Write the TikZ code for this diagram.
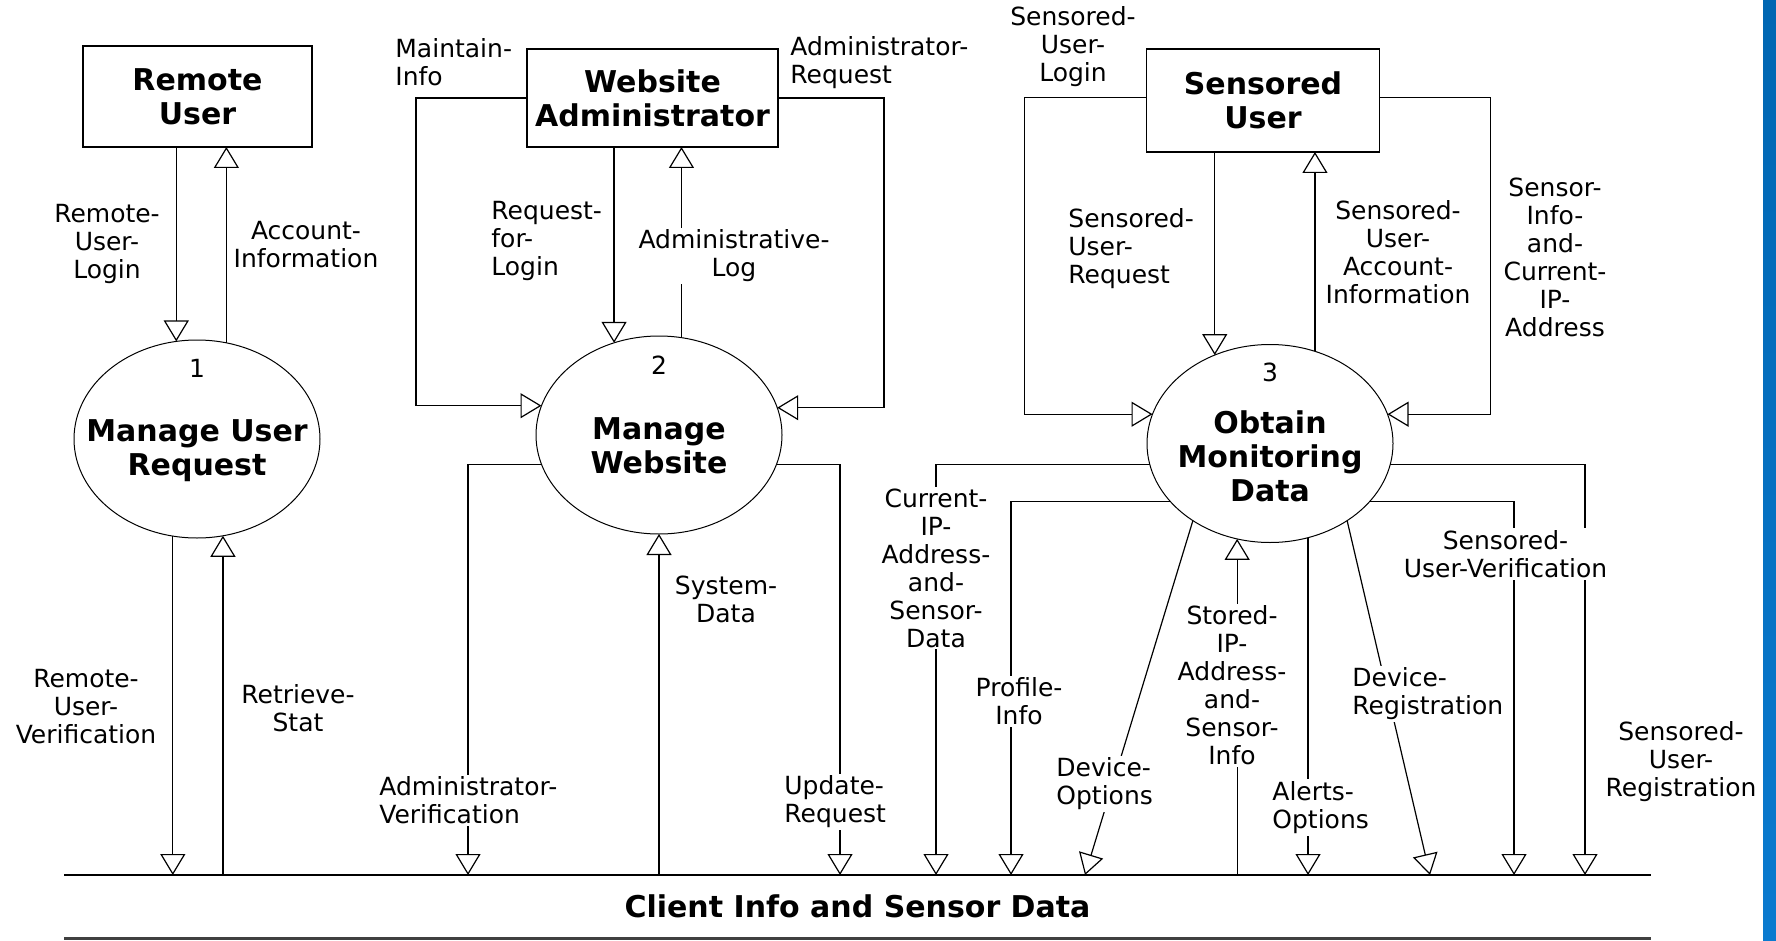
\documentclass[tikz,border=0pt]{standalone}
\usepackage{fontspec}
\setmainfont{DejaVu Sans}
\usetikzlibrary{arrows.meta,shapes.geometric}
\definecolor{bandtop}{HTML}{0066B2}
\definecolor{bandbot}{HTML}{0A7ACF}
\newcommand{\labfont}{\fontsize{12.5pt}{14pt}\selectfont}
\newcommand{\ttlfont}{\bfseries\fontsize{15pt}{17pt}\selectfont}

\begin{document}
\begin{tikzpicture}[x=0.5pt,y=-0.5pt,
  ext/.style={draw,rectangle,line width=0.7pt,inner sep=0pt,outer sep=0pt,align=center,font=\ttlfont},
  proc/.style={draw,ellipse,line width=0.5pt,inner sep=0pt,outer sep=0pt,minimum width=123pt,minimum height=99pt},
  ttl/.style={align=center,inner sep=0pt,font=\ttlfont},
  num/.style={inner sep=0pt,font=\labfont},
  lab/.style={align=center,fill=white,inner sep=1pt,font=\labfont},
  labl/.style={lab,align=left,anchor=west},
  flow/.style={line width=0.6pt,-{Triangle[open,width=12.5pt,length=10.5pt]}},
  dstore/.style={inner sep=0pt,outer sep=0pt,minimum width=793.5pt,minimum height=31.75pt,font=\ttlfont}]
	\path[fill=white,use as bounding box] (0,0) rectangle (1776,941);
	\shade[top color=bandtop,bottom color=bandbot] (1763,0) rectangle (1776,941);

	\node[ext,minimum width=114.5pt,minimum height=50.5pt] (RU) at (197.5,96.5) {Remote\\User};
	\node[ext,minimum width=125.5pt,minimum height=49pt] (WA) at (652.5,98) {Website\\Administrator};
	\node[ext,minimum width=116.25pt,minimum height=51.5pt] (SU) at (1263,100.5) {Sensored\\User};

	\node[proc] (P1) at (197,439) {};
	\node[proc] (P2) at (659,435) {};
	\node[proc] (P3) at (1270,443.5) {};
	\node[num] (n1) at (197,368) {1};
	\node[num] (n2) at (659,365) {2};
	\node[num] (n3) at (1270,372) {3};
	\node[ttl] (t1) at (197,450.5) {Manage User\\Request};
	\node[ttl] (t2) at (659,446) {Manage\\Website};
	\node[ttl] (t3) at (1270,456) {Obtain\\Monitoring\\Data};

	\node[dstore] (DS) at (857.5,906.75) {Client Info and Sensor Data};
	\draw[line width=0.6pt] (DS.north west) -- (DS.north east);
	\draw[line width=1.2pt,black!75] (DS.south west) -- (DS.south east);

	\coordinate (cAV) at (468,0);
	\coordinate (cUR) at (840,0);
	\coordinate (cCI) at (936,0);
	\coordinate (cPI) at (1011,0);
	\coordinate (cDO) at (1085,0);
	\coordinate (cDR) at (1430,0);
	\coordinate (cSV) at (1514,0);
	\coordinate (cSR) at (1585,0);

	% process 1
	\draw[flow] (RU.south -| P1.102) -- (P1.102);
	\draw[flow] (P1.73) -- (P1.73 |- RU.south);
	\draw[flow] (P1.256) -- (P1.256 |- DS.north);
	\draw[flow] (P1.285 |- DS.north) -- (P1.285);

	% process 2
	\draw[flow] (WA.west) -- ++(-111,0) |- (P2.166);
	\draw[flow] (WA.east) -- ++(106,0) |- (P2.13);
	\draw[flow] (WA.south -| P2.116) -- (P2.116);
	\draw[flow] (P2.77) -- (P2.77 |- WA.south);
	\draw[flow] (P2.194) -| (cAV |- DS.north);
	\draw[flow] (P2.346) -| (cUR |- DS.north);
	\draw[flow] (P2.270 |- DS.north) -- (P2.270);

	% process 3
	\draw[flow] ([yshift=1.5pt]SU.west) -- ++(-122,0) |- (P3.166);
	\draw[flow] ([yshift=1.5pt]SU.east) -- ++(111,0) |- (P3.14);
	\draw[flow] (SU.south -| P3.122) -- (P3.122);
	\draw[flow] (P3.64) -- (P3.64 |- SU.south);
	\draw[flow] (P3.190) -| (cCI |- DS.north);
	\draw[flow] (P3.350) -| (cSR |- DS.north);
	\draw[flow] (P3.210) -| (cPI |- DS.north);
	\draw[flow] (P3.330) -| (cSV |- DS.north);
	\draw[flow] (P3.225) -- (cDO |- DS.north);
	\draw[flow] (P3.315) -- (cDR |- DS.north);
	\draw[flow] (P3.251 |- DS.north) -- (P3.251);
	\draw[flow] (P3.292) -- (P3.292 |- DS.north);

	\node[lab] (lRUL) at (107,244) {Remote-\\User-\\Login};
	\node[lab] (lAI) at (306,245) {Account-\\Information};
	\node[lab] (lRUV) at (86,707) {Remote-\\User-\\Verification};
	\node[lab] (lRS) at (298,708) {Retrieve-\\Stat};
	\node[labl] (lMI) at (393,62.5) {Maintain-\\Info};
	\node[labl] (lAR) at (788,62.5) {Administrator-\\Request};
	\node[labl] (lRL) at (489,241) {Request-\\for-\\Login};
	\node[lab] (lAL) at (734,256) {Administrative-\\Log};
	\node[lab] (lSD) at (726,599) {System-\\Data};
	\node[labl] (lAV) at (377,800.5) {Administrator-\\Verification};
	\node[labl] (lUR) at (782,802) {Update-\\Request};
	\node[lab] (lCI) at (936,568) {Current-\\IP-\\Address-\\and-\\Sensor-\\Data};
	\node[lab] (lPI) at (1019,701.5) {Profile-\\Info};
	\node[labl] (lDO) at (1054,784) {Device-\\Options};
	\node[lab] (lSI) at (1232,685.5) {Stored-\\IP-\\Address-\\and-\\Sensor-\\Info};
	\node[labl] (lAO) at (1270,807.5) {Alerts-\\Options};
	\node[labl] (lDR) at (1350,694) {Device-\\Registration};
	\node[lab] (lSV) at (1505.5,554) {Sensored-\\User-Verification};
	\node[lab] (lSR) at (1681,761.5) {Sensored-\\User-\\Registration};
	\node[lab] (lSL) at (1073,46.5) {Sensored-\\User-\\Login};
	\node[labl] (lSQ) at (1066,249) {Sensored-\\User-\\Request};
	\node[lab] (lSA) at (1398,252) {Sensored-\\User-\\Account-\\Information};
	\node[lab] (lSC) at (1555,257) {Sensor-\\Info-\\and-\\Current-\\IP-\\Address};
\end{tikzpicture}
\end{document}
